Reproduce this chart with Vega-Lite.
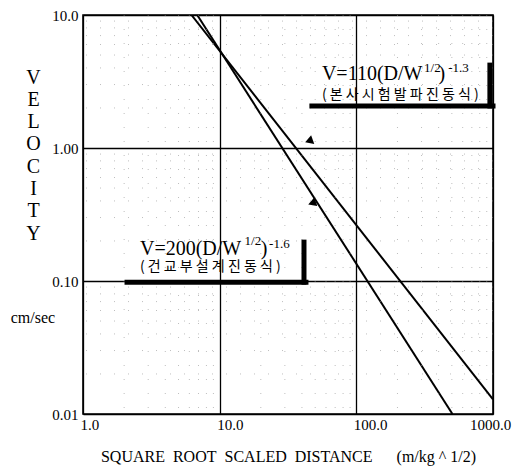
{
  "$schema": "https://vega.github.io/schema/vega-lite/v6.json",
  "width": 410,
  "height": 399,
  "autosize": {"type": "none"},
  "padding": {"left": 83, "top": 15, "right": 36, "bottom": 52},
  "background": "white",
  "config": {
    "view": {"stroke": "black", "strokeWidth": 1.6},
    "font": "Liberation Serif"
  },
  "datasets": {
    "lines": [
      {"eq": "V=200", "x": 6.85, "y": 10},
      {"eq": "V=200", "x": 505, "y": 0.01},
      {"eq": "V=110", "x": 6.22, "y": 10},
      {"eq": "V=110", "x": 1000, "y": 0.0129}
    ],
    "minorx": [
      {"x": 2}, {"x": 3}, {"x": 4}, {"x": 5}, {"x": 6}, {"x": 7}, {"x": 8}, {"x": 9},
      {"x": 20}, {"x": 30}, {"x": 40}, {"x": 50}, {"x": 60}, {"x": 70}, {"x": 80}, {"x": 90},
      {"x": 200}, {"x": 300}, {"x": 400}, {"x": 500}, {"x": 600}, {"x": 700}, {"x": 800}, {"x": 900}
    ],
    "minory": [
      {"y": 0.02}, {"y": 0.03}, {"y": 0.04}, {"y": 0.05}, {"y": 0.06}, {"y": 0.07}, {"y": 0.08}, {"y": 0.09},
      {"y": 0.2}, {"y": 0.3}, {"y": 0.4}, {"y": 0.5}, {"y": 0.6}, {"y": 0.7}, {"y": 0.8}, {"y": 0.9},
      {"y": 2}, {"y": 3}, {"y": 4}, {"y": 5}, {"y": 6}, {"y": 7}, {"y": 8}, {"y": 9}
    ],
    "bars": [
      {"x": 47.3, "x2": 1000, "y": 2.07, "y2": 2.07},
      {"x": 949, "x2": 949, "y": 4.2, "y2": 2.07},
      {"x": 2.1, "x2": 42.8, "y": 0.098, "y2": 0.098},
      {"x": 41.4, "x2": 41.4, "y": 0.196, "y2": 0.098}
    ],
    "labels": [
      {"x": 2.61, "y": 0.157, "t": "V=200(D/W", "k": "main"},
      {"x": 15.2, "y": 0.187, "t": "1/2", "k": "sup"},
      {"x": 20.0, "y": 0.157, "t": ")", "k": "main"},
      {"x": 23.0, "y": 0.177, "t": "-1.6", "k": "sup"},
      {"x": 2.61, "y": 0.119, "t": "( 건 교 부 설 계 진 동 식 )", "k": "kr"},
      {"x": 56.0, "y": 3.24, "t": "V=110(D/W", "k": "main"},
      {"x": 313, "y": 3.73, "t": "1/2", "k": "sup"},
      {"x": 400, "y": 3.24, "t": ")", "k": "main"},
      {"x": 470, "y": 3.73, "t": "-1.3", "k": "sup"},
      {"x": 56.0, "y": 2.33, "t": "( 본 사 시 험 발 파 진 동 식 )", "k": "kr"},
      {"x": 0.43, "y": 0.053, "t": "cm/sec", "k": "unit"}
    ],
    "arrows": [
      {"x": 45, "y": 1.13},
      {"x": 47.4, "y": 0.385}
    ]
  },
  "layer": [
    {
      "data": {"name": "lines"},
      "mark": {"type": "line", "color": "black", "strokeWidth": 2, "clip": true},
      "encoding": {
        "x": {
          "field": "x", "type": "quantitative",
          "scale": {"type": "log", "domain": [1, 1000]},
          "axis": {
            "values": [1, 10, 100, 1000],
            "format": ".1f",
            "grid": true, "gridColor": "black", "gridWidth": 1.3, "gridOpacity": 1,
            "ticks": false, "domain": false,
            "labelFont": "Liberation Serif", "labelFontSize": 15, "labelColor": "black",
            "labelPadding": 3,
            "labelAlign": {"condition": {"test": "datum.value >= 1000", "value": "center"}, "value": "left"},
            "labelOffset": -3,
            "labelFlush": false,
            "title": "SQUARE\u00a0\u00a0ROOT\u00a0\u00a0SCALED\u00a0\u00a0DISTANCE\u00a0\u00a0\u00a0\u00a0\u00a0\u00a0(m/kg\u00a0^\u00a01/2)",
            "titleFont": "Liberation Serif", "titleFontSize": 16, "titleFontWeight": "normal",
            "titleColor": "black", "titlePadding": 16
          }
        },
        "y": {
          "field": "y", "type": "quantitative",
          "scale": {"type": "log", "domain": [0.01, 10]},
          "axis": {
            "values": [0.01, 0.1, 1, 10],
            "labelExpr": "datum.value >= 10 ? '10.0' : format(datum.value, '.2f')",
            "grid": true, "gridColor": "black", "gridWidth": 1.3, "gridOpacity": 1,
            "ticks": false, "domain": false,
            "labelFont": "Liberation Serif", "labelFontSize": 15, "labelColor": "black",
            "labelPadding": 5,
            "title": ["V", "E", "L", "O", "C", "I", "T", "Y"],
            "titleFont": "Liberation Serif", "titleFontSize": 20, "titleFontWeight": "normal",
            "titleColor": "black", "titleAngle": 0, "titleAlign": "center", "titleBaseline": "top",
            "titleX": -50, "titleY": 52, "titleLineHeight": 22.3
          }
        },
        "detail": {"field": "eq", "type": "nominal"}
      }
    },
    {
      "data": {"name": "minorx"},
      "mark": {"type": "rule", "stroke": "#888", "strokeWidth": 1, "strokeDash": [1, 13], "opacity": 0.55},
      "encoding": {
        "x": {"field": "x", "type": "quantitative", "scale": {"type": "log", "domain": [1, 1000]}}
      }
    },
    {
      "data": {"name": "minory"},
      "mark": {"type": "rule", "stroke": "#888", "strokeWidth": 1, "strokeDash": [1, 13], "opacity": 0.55},
      "encoding": {
        "y": {"field": "y", "type": "quantitative", "scale": {"type": "log", "domain": [0.01, 10]}}
      }
    },
    {
      "data": {"name": "bars"},
      "mark": {"type": "rule", "color": "black", "strokeWidth": 5, "strokeCap": "square"},
      "encoding": {
        "x": {"field": "x", "type": "quantitative", "scale": {"type": "log", "domain": [1, 1000]}},
        "x2": {"field": "x2"},
        "y": {"field": "y", "type": "quantitative", "scale": {"type": "log", "domain": [0.01, 10]}},
        "y2": {"field": "y2"}
      }
    },
    {
      "data": {"name": "labels"},
      "transform": [{"filter": "datum.k == 'main'"}],
      "mark": {"type": "text", "align": "left", "baseline": "alphabetic", "font": "Liberation Serif", "fontSize": 20, "color": "black"},
      "encoding": {
        "x": {"field": "x", "type": "quantitative", "scale": {"type": "log", "domain": [1, 1000]}},
        "y": {"field": "y", "type": "quantitative", "scale": {"type": "log", "domain": [0.01, 10]}},
        "text": {"field": "t"}
      }
    },
    {
      "data": {"name": "labels"},
      "transform": [{"filter": "datum.k == 'sup'"}],
      "mark": {"type": "text", "align": "left", "baseline": "alphabetic", "font": "Liberation Serif", "fontSize": 13, "color": "black"},
      "encoding": {
        "x": {"field": "x", "type": "quantitative", "scale": {"type": "log", "domain": [1, 1000]}},
        "y": {"field": "y", "type": "quantitative", "scale": {"type": "log", "domain": [0.01, 10]}},
        "text": {"field": "t"}
      }
    },
    {
      "data": {"name": "labels"},
      "transform": [{"filter": "datum.k == 'kr'"}],
      "mark": {"type": "text", "align": "left", "baseline": "alphabetic", "font": "Noto Sans CJK KR", "fontSize": 14, "color": "black"},
      "encoding": {
        "x": {"field": "x", "type": "quantitative", "scale": {"type": "log", "domain": [1, 1000]}},
        "y": {"field": "y", "type": "quantitative", "scale": {"type": "log", "domain": [0.01, 10]}},
        "text": {"field": "t"}
      }
    },
    {
      "data": {"name": "labels"},
      "transform": [{"filter": "datum.k == 'unit'"}],
      "mark": {"type": "text", "align": "center", "baseline": "middle", "font": "Liberation Serif", "fontSize": 16, "color": "black", "clip": false},
      "encoding": {
        "x": {"field": "x", "type": "quantitative", "scale": {"type": "log", "domain": [1, 1000]}},
        "y": {"field": "y", "type": "quantitative", "scale": {"type": "log", "domain": [0.01, 10]}},
        "text": {"field": "t"}
      }
    },
    {
      "data": {"name": "arrows"},
      "mark": {"type": "point", "shape": "triangle-left", "filled": true, "color": "black", "opacity": 1, "size": 85, "angle": -20},
      "encoding": {
        "x": {"field": "x", "type": "quantitative", "scale": {"type": "log", "domain": [1, 1000]}},
        "y": {"field": "y", "type": "quantitative", "scale": {"type": "log", "domain": [0.01, 10]}}
      }
    }
  ]
}
